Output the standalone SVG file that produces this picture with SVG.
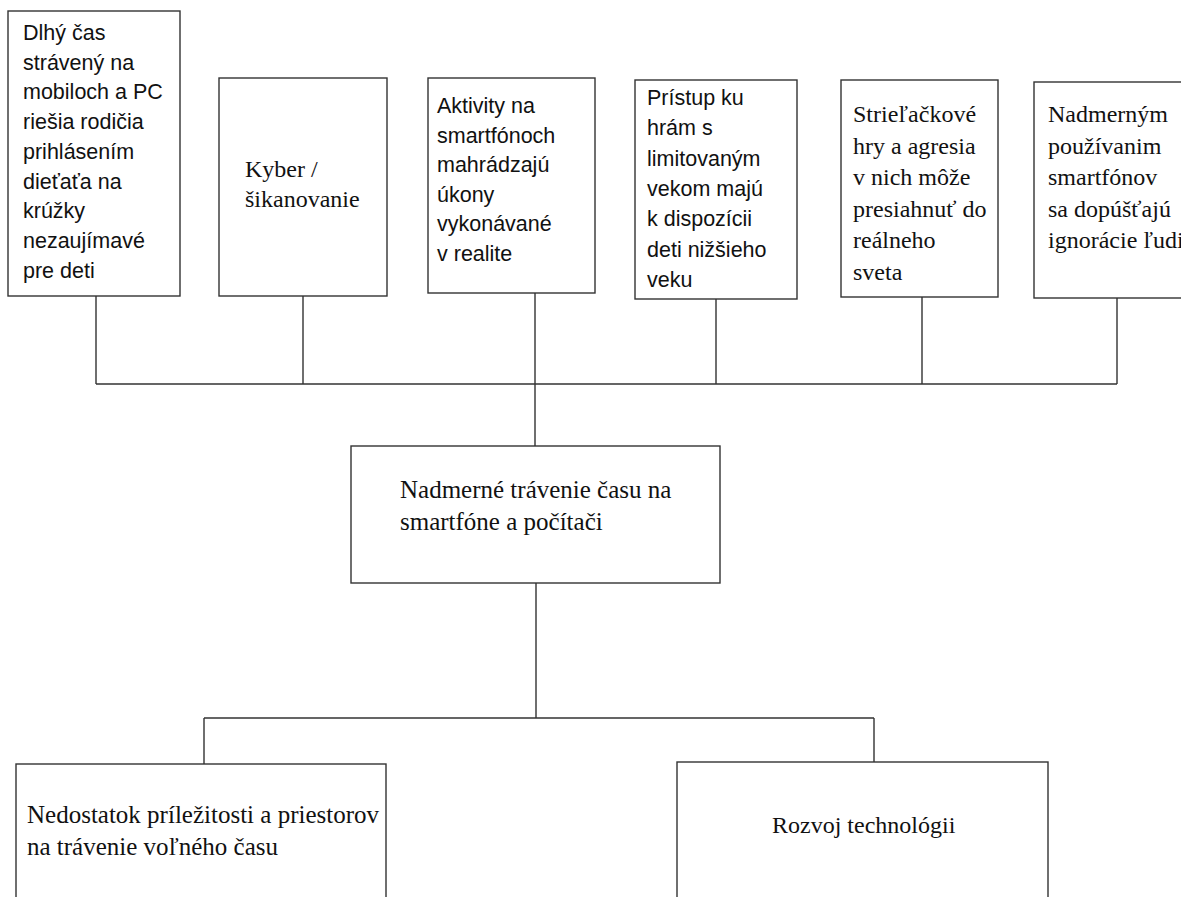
<svg xmlns="http://www.w3.org/2000/svg" width="1181" height="897" viewBox="0 0 1181 897">
<style>
.box{fill:#fff;stroke:#333;stroke-width:1.4}
.con{fill:none;stroke:#333;stroke-width:1.4}
.sans{font-family:"Liberation Sans",Arial,sans-serif;font-size:21.5px;fill:#111}
.serif{font-family:"Liberation Serif","Times New Roman",serif;font-size:24px;fill:#111}
.big{font-size:25px}
</style>
<rect width="1181" height="897" fill="#fff"/>
<g id="connectors">
<path class="con" d="M96 296V384M303 296V384M535 293V384M716 299V384M922 297V384M1117 298V384M96 384H1117M535 384V446"/>
<path class="con" d="M536 583V718M204 718H874M204 718V764M874 718V762"/>
</g>
<g id="n1">
<rect class="box" x="8" y="11" width="172" height="285"/>
<text class="sans" x="23" y="40"><tspan x="23">Dlhý čas</tspan><tspan x="23" dy="29.7">strávený na</tspan><tspan x="23" dy="29.7">mobiloch a PC</tspan><tspan x="23" dy="29.7">riešia rodičia</tspan><tspan x="23" dy="29.7">prihlásením</tspan><tspan x="23" dy="29.7">dieťaťa na</tspan><tspan x="23" dy="29.7">krúžky</tspan><tspan x="23" dy="29.7">nezaujímavé</tspan><tspan x="23" dy="29.7">pre deti</tspan></text>
</g>
<g id="n2">
<rect class="box" x="219" y="78" width="168" height="218"/>
<text class="serif" x="245" y="177"><tspan x="245">Kyber /</tspan><tspan x="245" dy="30">šikanovanie</tspan></text>
</g>
<g id="n3">
<rect class="box" x="428" y="78" width="167" height="215"/>
<text class="sans" x="437" y="113"><tspan x="437">Aktivity na</tspan><tspan x="437" dy="29.5">smartfónoch</tspan><tspan x="437" dy="29.5">mahrádzajú</tspan><tspan x="437" dy="29.5">úkony</tspan><tspan x="437" dy="29.5">vykonávané</tspan><tspan x="437" dy="29.5">v realite</tspan></text>
</g>
<g id="n4">
<rect class="box" x="635" y="80" width="162" height="219"/>
<text class="sans" x="647" y="105"><tspan x="647">Prístup ku</tspan><tspan x="647" dy="30.3">hrám s</tspan><tspan x="647" dy="30.3">limitovaným</tspan><tspan x="647" dy="30.3">vekom majú</tspan><tspan x="647" dy="30.3">k dispozícii</tspan><tspan x="647" dy="30.3">deti nižšieho</tspan><tspan x="647" dy="30.3">veku</tspan></text>
</g>
<g id="n5">
<rect class="box" x="841" y="80" width="157" height="217"/>
<text class="serif" x="853" y="122"><tspan x="853">Strieľačkové</tspan><tspan x="853" dy="31.6">hry a agresia</tspan><tspan x="853" dy="31.6">v nich môže</tspan><tspan x="853" dy="31.6">presiahnuť  do</tspan><tspan x="853" dy="31.6">reálneho</tspan><tspan x="853" dy="31.6">sveta</tspan></text>
</g>
<g id="n6">
<rect class="box" x="1034" y="82" width="160" height="216"/>
<text class="serif" x="1048" y="122"><tspan x="1048">Nadmerným</tspan><tspan x="1048" dy="31.6">používanim</tspan><tspan x="1048" dy="31.6">smartfónov</tspan><tspan x="1048" dy="31.6">sa dopúšťajú</tspan><tspan x="1048" dy="31.6">ignorácie ľudi</tspan></text>
</g>
<g id="n7">
<rect class="box" x="351" y="446" width="369" height="137"/>
<text class="serif big" x="400" y="498"><tspan x="400">Nadmerné trávenie času na</tspan><tspan x="400" dy="32">smartfóne a počítači</tspan></text>
</g>
<g id="n8">
<rect class="box" x="16" y="764" width="370" height="150"/>
<text class="serif big" x="27" y="823"><tspan x="27">Nedostatok príležitosti a priestorov</tspan><tspan x="27" dy="32">na trávenie voľného času</tspan></text>
</g>
<g id="n9">
<rect class="box" x="677" y="762" width="371" height="150"/>
<text class="serif" x="772" y="833">Rozvoj technológii</text>
</g>
</svg>
